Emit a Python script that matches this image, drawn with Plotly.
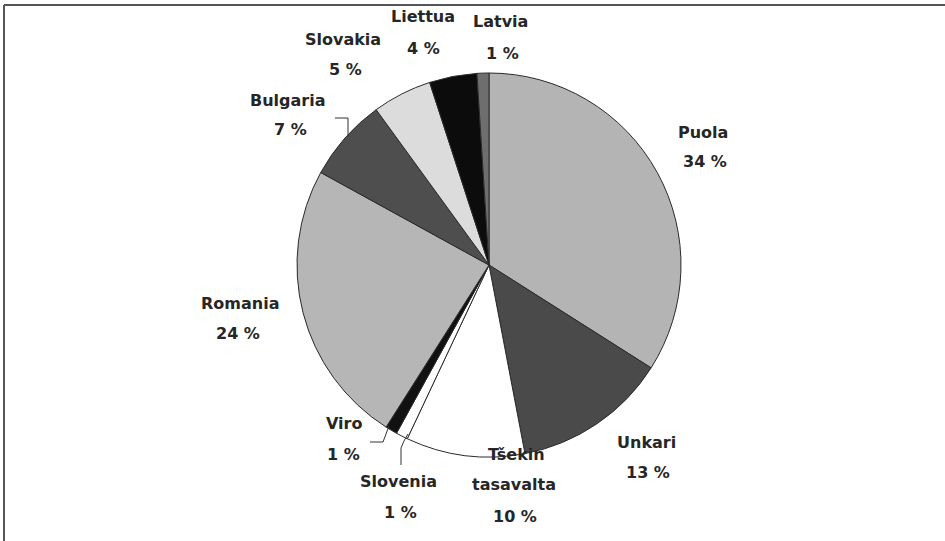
import plotly.graph_objects as go

# ---- data ----
countries = ["Puola", "Unkari", "Tšekin tasavalta", "Slovenia", "Viro",
             "Romania", "Bulgaria", "Slovakia", "Liettua", "Latvia"]
shares = [34, 13, 10, 1, 1, 24, 7, 5, 4, 1]
slice_colors = ["#b4b4b4", "#4a4a4a", "#ffffff", "#ffffff", "#111111",
                "#b6b6b6", "#4e4e4e", "#dcdcdc", "#0c0c0c", "#6e6e6e"]

W, H = 945, 541

def px(x):
    return x / W

def py(y):
    return 1 - y / H

# label layout (pixel centres of name lines, then percent line)
label_pos = {
    "Puola": [(703, 132)],
    "Unkari": [(646, 442)],
    "Tšekin tasavalta": [(516, 454), (514, 484)],
    "Slovenia": [(398, 481)],
    "Viro": [(344, 423)],
    "Romania": [(240, 303)],
    "Bulgaria": [(288, 100)],
    "Slovakia": [(343, 39)],
    "Liettua": [(423, 17)],
    "Latvia": [(500, 22)],
}
pct_pos = {
    "Puola": (705, 161), "Unkari": (648, 472), "Tšekin tasavalta": (515, 516),
    "Slovenia": (400, 512), "Viro": (343, 454), "Romania": (238, 333),
    "Bulgaria": (290, 130), "Slovakia": (345, 70), "Liettua": (423, 48),
    "Latvia": (502, 53),
}

fig = go.Figure(go.Pie(
    labels=countries, values=shares, sort=False, direction="clockwise",
    rotation=0, textinfo="none", showlegend=False,
    marker=dict(colors=slice_colors, line=dict(color="#2a2a2a", width=1)),
    domain=dict(x=[px(297), px(681)], y=[py(457), py(73)]),
))

font = dict(family="DejaVu Sans", size=16, color="#262626")
ann = []
for name, v in zip(countries, shares):
    parts = name.split(" ") if name == "Tšekin tasavalta" else [name]
    for part, (x, y) in zip(parts, label_pos[name]):
        ann.append(dict(x=px(x), y=py(y), xref="paper", yref="paper",
                        text="<b>%s</b>" % part, showarrow=False, font=font,
                        xanchor="center", yanchor="middle"))
    x, y = pct_pos[name]
    ann.append(dict(x=px(x), y=py(y), xref="paper", yref="paper",
                    text="<b>%d %%</b>" % v, showarrow=False, font=font,
                    xanchor="center", yanchor="middle"))

def path(pts):
    return "M " + " L ".join("%f,%f" % (px(a), py(b)) for a, b in pts)

shapes = [
    # frame (top and left edges visible)
    dict(type="line", xref="paper", yref="paper", x0=px(4), y0=py(5), x1=1.01, y1=py(5),
         line=dict(color="#555555", width=2)),
    dict(type="line", xref="paper", yref="paper", x0=px(4), y0=py(5), x1=px(4), y1=-0.01,
         line=dict(color="#555555", width=2)),
    # leader lines
    dict(type="path", xref="paper", yref="paper",
         path=path([(335, 118), (348, 118), (348, 137)]),
         line=dict(color="#333333", width=1)),
    dict(type="path", xref="paper", yref="paper",
         path=path([(370, 442), (383, 442), (389, 426)]),
         line=dict(color="#333333", width=1)),
    dict(type="path", xref="paper", yref="paper",
         path=path([(401, 465), (401, 448), (404, 441), (408, 434)]),
         line=dict(color="#333333", width=1)),
]

fig.update_layout(
    width=W, height=H, margin=dict(l=0, r=0, t=0, b=0),
    paper_bgcolor="white", plot_bgcolor="white",
    annotations=ann, shapes=shapes,
)

fig.write_html("out.html", config={"displayModeBar": False},
               post_script="document.body.style.margin='0';document.body.style.overflow='hidden';")
